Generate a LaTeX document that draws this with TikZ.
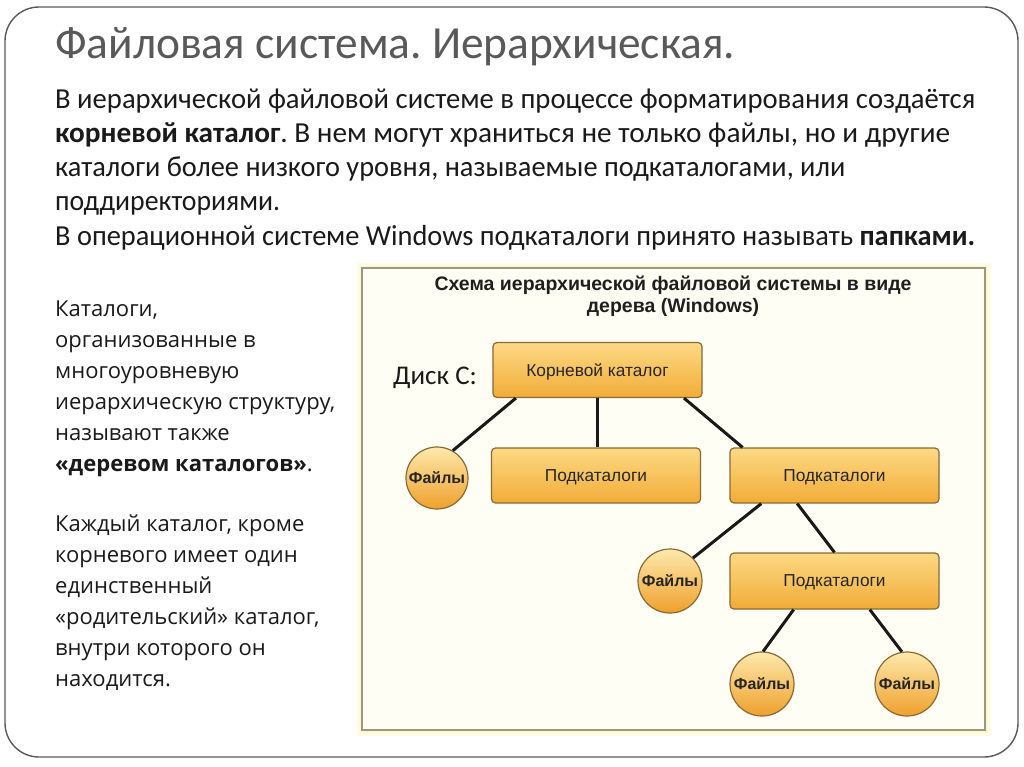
\documentclass[tikz,border=0pt]{standalone}
\usepackage{fontspec}
\usepackage{graphicx}
\setmainfont{Carlito}
\newfontfamily\osans{Open Sans}
\newfontfamily\arialf{Liberation Sans}
\frenchspacing
\definecolor{titlegray}{HTML}{595959}
\definecolor{bodytext}{HTML}{1A1A1A}
\definecolor{boxtop}{HTML}{FCD984}
\definecolor{boxbot}{HTML}{F2AC38}
\definecolor{circtop}{HTML}{FDE9AC}
\definecolor{circbot}{HTML}{EFA02C}
\definecolor{boxline}{HTML}{8A6A34}
\definecolor{panelfill}{HTML}{FFFEF4}
\definecolor{panelline}{HTML}{9E9880}
\definecolor{glowc}{HTML}{FFF2B0}
\definecolor{framec}{HTML}{5A5A5A}
\newcommand\fitw[2]{\resizebox{#1}{\height}{#2}}
\tikzset{
  dirbox/.style={draw=boxline, line width=1.2pt, rounded corners=4pt,
    top color=boxtop, bottom color=boxbot, minimum width=209pt,
    minimum height=55pt, inner sep=0pt, text depth=0pt,
    font=\arialf\fontsize{17.3}{19}\selectfont, text=black!85},
  filecirc/.style={circle, draw=boxline, line width=1.2pt,
    top color=circtop, bottom color=circbot, minimum size=64pt,
    inner sep=0pt, text depth=0pt, font=\arialf\bfseries\fontsize{16}{18}\selectfont,
    text=black!85},
  link/.style={line width=3pt, draw=black!90},
  bodyline/.style={anchor=base west, inner sep=0pt, text=bodytext,
    font=\fontsize{29}{34}\selectfont},
  sideline/.style={anchor=base west, inner sep=0pt, text=bodytext,
    font=\osans\fontsize{22}{26}\selectfont},
}
\begin{document}
\begin{tikzpicture}[x=1pt,y=-1pt]
\useasboundingbox (0,0) rectangle (1024,767);
\fill[white] (0,0) rectangle (1024,767);
% slide frame
\draw[framec, line width=1.4pt, rounded corners=34pt] (5,7) rectangle (1018,757);
% title
\node[anchor=base west, inner sep=0pt, text=titlegray,
  font=\fontsize{46}{52}\selectfont] (title) at (55,59)
  {\fitw{680pt}{Файловая система. Иерархическая.}};
% paragraph
\node[bodyline] (p1) at (55,109) {\fitw{920pt}{В иерархической файловой системе в процессе форматирования создаётся}};
\node[bodyline] (p2) at (55,143) {\fitw{895pt}{\textbf{корневой каталог}. В нем могут храниться не только файлы, но и другие}};
\node[bodyline] (p3) at (55,177) {\fitw{790pt}{каталоги более низкого уровня, называемые подкаталогами, или}};
\node[bodyline] (p4) at (55,211) {\fitw{225pt}{поддиректориями.}};
\node[bodyline] (p5) at (55,245) {\fitw{920pt}{В операционной системе Windows подкаталоги принято называть \textbf{папками.}}};
% side text
\node[sideline] (s1) at (55,316) {Каталоги,};
\node[sideline] (s2) at (55,347) {организованные в};
\node[sideline] (s3) at (55,378) {многоуровневую};
\node[sideline] (s4) at (55,409) {иерархическую структуру,};
\node[sideline] (s5) at (55,440) {называют также};
\node[sideline] (s6) at (55,471) {\textbf{«деревом каталогов»}.};
\node[sideline] (s7) at (55,531) {Каждый каталог, кроме};
\node[sideline] (s8) at (55,562) {корневого имеет один};
\node[sideline] (s9) at (55,593) {единственный};
\node[sideline] (s10) at (55,624) {«родительский» каталог,};
\node[sideline] (s11) at (55,655) {внутри которого он};
\node[sideline] (s12) at (55,686) {находится.};
% panel with glow
\draw[glowc!30, line width=11pt] (362,268) rectangle (985,730);
\draw[glowc!60, line width=5pt] (362,268) rectangle (985,730);
\draw[panelline, fill=panelfill, line width=1.5pt] (362,268) rectangle (985,730);
\node[inner sep=0pt, align=center, text=black!88,
  font=\arialf\bfseries\fontsize{19.5}{22}\selectfont] (ptitle) at (673,296)
  {Схема иерархической файловой системы в виде\\дерева (Windows)};
\node[anchor=base west, inner sep=0pt, text=bodytext,
  font=\fontsize{27}{30}\selectfont] (disk) at (393,384) {Диск С:};
% tree
\node[dirbox] (root) at (597.5,370) {Корневой каталог};
\node[dirbox] (sub1) at (596,475.5) {Подкаталоги};
\node[dirbox] (sub2) at (834.5,475.5) {Подкаталоги};
\node[dirbox, minimum height=56pt] (sub3) at (834.5,581) {Подкаталоги};
\node[filecirc, minimum size=62pt] (f1) at (437,478) {Файлы};
\node[filecirc] (f2) at (670,581) {Файлы};
\node[filecirc] (f3) at (762,684) {Файлы};
\node[filecirc] (f4) at (907,684) {Файлы};
\draw[link] (root.199) -- (f1.60);
\draw[link] (root.south) -- (root.south |- sub1.north);
\draw[link] (root.342) -- (sub2.163);
\draw[link] (sub2.201) -- (f2.45);
\draw[link] (sub2.217) -- (sub3.90);
\draw[link] (sub3.215) -- (f3.88);
\draw[link] (sub3.321) -- (f4.99);
\end{tikzpicture}
\end{document}
